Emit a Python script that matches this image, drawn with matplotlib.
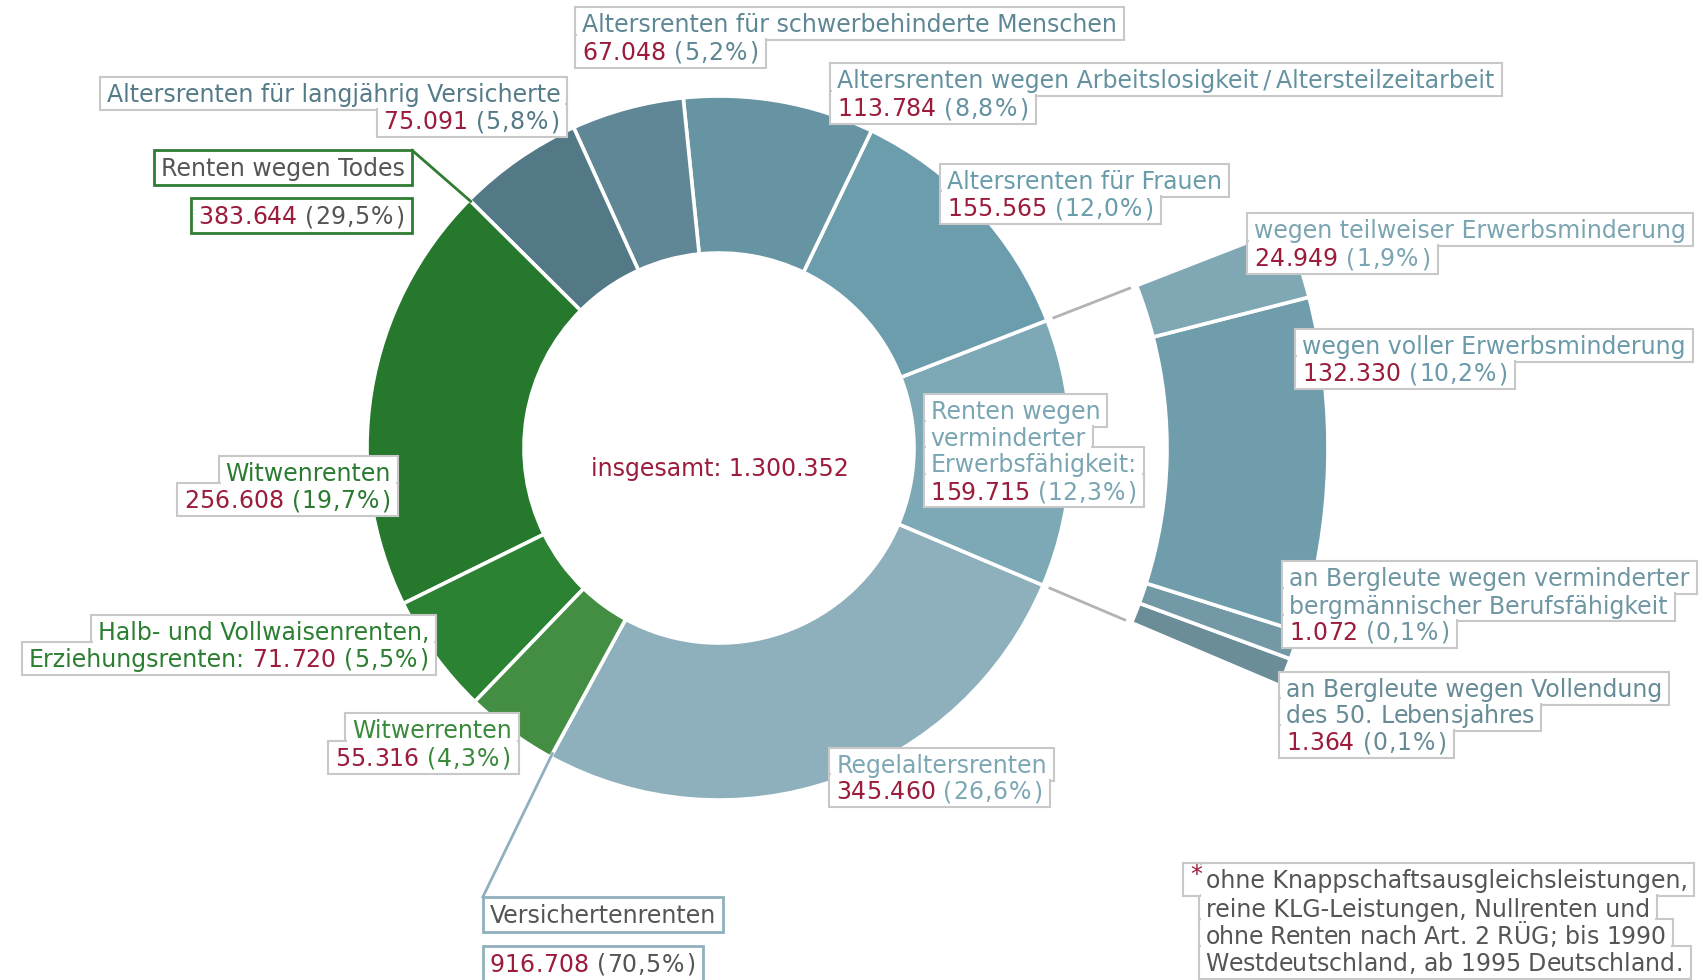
import matplotlib
matplotlib.use('Agg')
import matplotlib.pyplot as plt
from matplotlib.patches import Rectangle
import numpy as np

plt.rcParams['font.family'] = ['DejaVu Sans']

# ---------------- data ----------------
main_names = ['Regelaltersrenten',
              'Renten wegen verminderter Erwerbsfähigkeit:',
              'Altersrenten für Frauen',
              'Altersrenten wegen Arbeitslosigkeit\u2009/\u2009Altersteilzeitarbeit',
              'Altersrenten für schwerbehinderte Menschen',
              'Altersrenten für langjährig Versicherte',
              'Witwenrenten',
              'Halb- und Vollwaisenrenten, Erziehungsrenten:',
              'Witwerrenten']
main_values = [345460, 159715, 155565, 113784, 67048, 75091, 256608, 71720, 55316]
main_pct = ['26,6', '12,3', '12,0', '8,8', '5,2', '5,8', '19,7', '5,5', '4,3']

sub_names = ['an Bergleute wegen Vollendung des 50. Lebensjahres',
             'an Bergleute wegen verminderter bergmännischer Berufsfähigkeit',
             'wegen voller Erwerbsminderung',
             'wegen teilweiser Erwerbsminderung']
sub_values = [1364, 1072, 132330, 24949]
sub_pct = ['0,1', '0,1', '10,2', '1,9']

group_names = ['Versichertenrenten', 'Renten wegen Todes']
group_values = [916708, 383644]
group_pct = ['70,5', '29,5']

total_value = 1300352
footnote_lines = ['ohne Knappschaftsausgleichsleistungen,',
                  'reine KLG-Leistungen, Nullrenten und',
                  'ohne Renten nach Art. 2 RÜG; bis 1990',
                  'Westdeutschland, ab 1995 Deutschland.']

# ---------------- style ----------------
main_colors = ['#8eb0bc', '#7da8b6', '#6b9dac', '#6794a2', '#5f8796',
               '#537987', '#26782c', '#2b8232', '#448e44']
sub_colors = ['#6b8d98', '#7399a6', '#6f9dac', '#80a7b4']
main_text_colors = ['#7ea7b5', '#7aa5b3', '#6a9dab', '#6592a0', '#5e8795',
                    '#557b89', '#2a7b30', '#2b7f31', '#3a8a3c']
sub_text_colors = ['#678c97', '#6f96a3', '#6b9baa', '#7ba5b2']
RED = '#9b1c3b'
GRAY = '#555555'
BOXGRAY = '#c8c8c8'
FS = 17
# extra advance (in em) to mimic the wider punctuation of the original face
EXTRA = {'.': 0.05, ',': 0.05, '(': 0.07, ')': 0.07, '%': 0.12}

W, H = 1703, 980
S = W / 1568.0  # layout below was measured on the 1568-wide view


def fmt(v):
    return f"{v:,}".replace(',', '.')


def Y(y):
    return H - y * S


def X(x):
    return x * S


fig = plt.figure(figsize=(W / 100, H / 100), dpi=100)
ax = fig.add_axes([0, 0, 1, 1])

C = (X(662), Y(412.5))
R1 = 352
W1 = 157
R2 = 609
W2 = 161
START = 241.4

ax.pie(main_values, colors=main_colors, startangle=START, counterclock=True,
       radius=R1, center=C,
       wedgeprops=dict(width=W1, edgecolor='white', linewidth=2.6))

tot_main = float(sum(main_values))
cum = np.concatenate([[0], np.cumsum(main_values)]) / tot_main * 360 + START
verm_start, verm_end = cum[1], cum[2]
span = verm_end - verm_start

sv = np.array(sub_values, dtype=float)
disp_w = np.maximum(sv, 0.07 * sv.sum())
disp_w[3] *= 1.15
frac = disp_w / disp_w.sum() * span / 360.0
ax.pie(frac, colors=sub_colors, startangle=verm_start, counterclock=True,
       normalize=False, radius=R2, center=C,
       wedgeprops=dict(width=W2, edgecolor='white', linewidth=2.6))

ax.set_xlim(0, W)
ax.set_ylim(0, H)
ax.set_aspect('equal')
ax.axis('off')


def polar(angle, r):
    a = np.deg2rad(angle)
    return C[0] + r * np.cos(a), C[1] + r * np.sin(a)


# connector lines between ring and detail arc
for ang in (verm_start, verm_end):
    p0 = polar(ang, R1 + 6)
    p1 = polar(ang, R2 - W2 - 6)
    ax.plot([p0[0], p1[0]], [p0[1], p1[1]], color='#b3b3b3', lw=2, zorder=3,
            solid_capstyle='butt')

renderer = fig.canvas.get_renderer()
_cache = {}


def tw(s):
    if s not in _cache:
        t = ax.text(0, 0, s, fontsize=FS)
        _cache[s] = t.get_window_extent(renderer).width
        t.remove()
    return _cache[s]


SP = tw('a a') - tw('aa')
EM = FS * 100 / 72.0


def char_adv(c):
    return tw('x' + c + 'x') - tw('xx') + EXTRA.get(c, 0) * EM


def is_num(s):
    return any(ch.isdigit() for ch in s)


def seg_width(s):
    if is_num(s):
        return sum(char_adv(c) for c in s)
    return tw(s)


def draw_seg(x, base, s, c):
    if is_num(s):
        for ch in s:
            e = EXTRA.get(ch, 0) * EM
            ax.text(x + e / 2, base, ch, color=c, fontsize=FS, va='baseline',
                    ha='left', zorder=7)
            x += char_adv(ch)
    else:
        ax.text(x, base, s, color=c, fontsize=FS, va='baseline', ha='left',
                zorder=7)


def draw_label(lines, anchor, centers, align='left', edge=BOXGRAY, lw=1.5,
               half=16.5, pad=7):
    rects = []
    for segs, cy in zip(lines, centers):
        widths = [seg_width(s) for s, _ in segs]
        totw = sum(widths) + SP * (len(segs) - 1)
        ax_ = X(anchor)
        x0 = ax_ if align == 'left' else ax_ - totw
        yc = Y(cy)
        base = yc - 8.6
        x = x0
        for (s, c), w in zip(segs, widths):
            draw_seg(x, base, s, c)
            x += w + SP
        rects.append((x0 - pad, yc - half, totw + 2 * pad, 2 * half))
    for (x, y, w, h) in rects:
        ax.add_patch(Rectangle((x, y), w, h, fc='white', ec=edge, lw=lw,
                               zorder=5))
    ins = lw + 0.5
    for (x, y, w, h) in rects:
        ax.add_patch(Rectangle((x + ins, y + ins), w - 2 * ins, h - 2 * ins,
                               fc='white', ec='none', zorder=6))
    return rects


def val_line(value, pct, pcolor):
    return [(fmt(value), RED), (f"({pct}%)", pcolor)]


# --- labels for main ring ---
tc = main_text_colors
draw_label([[(main_names[4], tc[4])], val_line(main_values[4], main_pct[4], tc[4])],
           536, [22, 47])
draw_label([[(main_names[3], tc[3])], val_line(main_values[3], main_pct[3], tc[3])],
           771, [73, 99])
draw_label([[(main_names[2], tc[2])], val_line(main_values[2], main_pct[2], tc[2])],
           872, [166, 191])
draw_label([[(main_names[5], tc[5])], val_line(main_values[5], main_pct[5], tc[5])],
           516, [86, 111], align='right')
vn = main_names[1].split(' ')
draw_label([[(' '.join(vn[:2]), tc[1])], [(vn[2], tc[1])], [(vn[3], tc[1])],
            val_line(main_values[1], main_pct[1], tc[1])],
           857, [378, 403, 427, 452])
draw_label([[(main_names[0], tc[0])], val_line(main_values[0], main_pct[0], tc[0])],
           770, [704, 728])
draw_label([[(main_names[6], tc[6])], val_line(main_values[6], main_pct[6], tc[6])],
           360, [435, 460], align='right')
wn = main_names[7].split(' ')
draw_label([[(' '.join(wn[:3]), tc[7])],
            [(wn[3], tc[7]), (fmt(main_values[7]), RED), (f"({main_pct[7]}%)", tc[7])]],
           395, [581, 606], align='right')
draw_label([[(main_names[8], tc[8])], val_line(main_values[8], main_pct[8], tc[8])],
           471, [672, 697], align='right')

# --- labels for detail arc ---
st = sub_text_colors
draw_label([[(sub_names[3], st[3])], val_line(sub_values[3], sub_pct[3], st[3])],
           1155, [211, 237])
draw_label([[(sub_names[2], st[2])], val_line(sub_values[2], sub_pct[2], st[2])],
           1199, [318, 343])
bn = sub_names[1].split(' ')
draw_label([[(' '.join(bn[:4]), st[1])], [(' '.join(bn[4:]), st[1])],
            val_line(sub_values[1], sub_pct[1], st[1])],
           1187, [532, 557, 581])
bn = sub_names[0].split(' ')
draw_label([[(' '.join(bn[:4]), st[0])], [(' '.join(bn[4:]), st[0])],
            val_line(sub_values[0], sub_pct[0], st[0])],
           1184, [634, 658, 683])

# --- group labels ---
GREEN_EDGE = '#2e7d32'
BLUE_EDGE = '#8fb0bc'
r_t = draw_label([[(group_names[1], GRAY)]], 373, [154.5], align='right',
                 edge=GREEN_EDGE, lw=2, half=17.5)
draw_label([[(fmt(group_values[1]), RED), (f"({group_pct[1]}%)", GRAY)]], 373, [198.5],
           align='right', edge=GREEN_EDGE, lw=2, half=17.5)
r_v = draw_label([[(group_names[0], GRAY)]], 451, [842], edge=BLUE_EDGE, lw=2,
                 half=17.5)
draw_label([[(fmt(group_values[0]), RED), (f"({group_pct[0]}%)", GRAY)]], 451, [887],
           edge=BLUE_EDGE, lw=2, half=17.5)

x, y, w, h = r_t[0]
p = polar(cum[6], R1 - 2)
ax.plot([x + w, p[0]], [y + h, p[1]], color=GREEN_EDGE, lw=2, zorder=4)
x, y, w, h = r_v[0]
p = polar(cum[0], R1 - 4)
ax.plot([x, p[0]], [y + h, p[1]], color=BLUE_EDGE, lw=2, zorder=4)

# --- centre text ---
ax.text(X(663), Y(432), f"insgesamt: {fmt(total_value)}", color=RED,
        fontsize=FS, ha='center', va='center', zorder=7)

# --- footnote ---
rects = draw_label([[(footnote_lines[0], GRAY)], [(footnote_lines[1], GRAY)],
                    [(footnote_lines[2], GRAY)], [(footnote_lines[3], GRAY)]],
                   1110, [810, 836, 861, 886])
x, y, w, h = rects[0]
ext = 14 * S
ax.add_patch(Rectangle((x - ext, y), ext + 2, h, fc='white', ec=BOXGRAY, lw=1.5,
                       zorder=5))
ax.add_patch(Rectangle((x - ext + 2, y + 2), ext + 4, h - 4, fc='white',
                       ec='none', zorder=6))
ax.text(X(1101), Y(806), '*', color=RED, fontsize=FS, ha='center', va='center',
        zorder=7)

fig.savefig('out.png', dpi=100)
